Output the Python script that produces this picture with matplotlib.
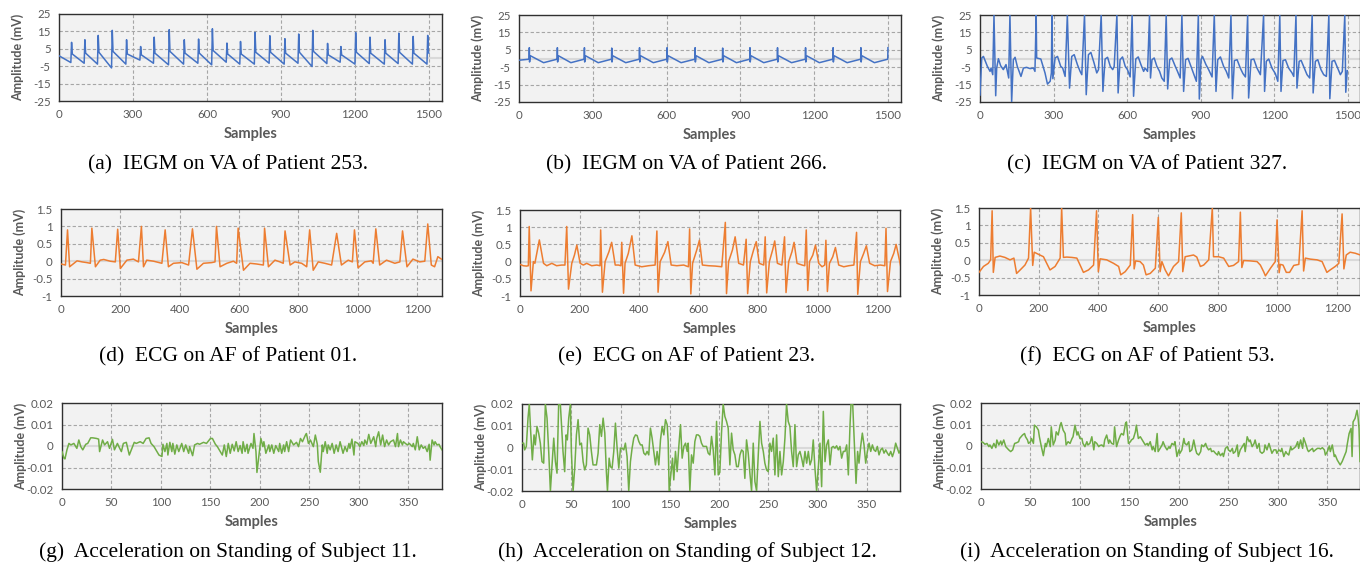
import matplotlib.pyplot as plt

plt.rcParams['axes.unicode_minus'] = False

# ---------------- data ----------------
# (a) IEGM, VA, patient 253
a_x = [0, 48, 51, 54, 102, 105, 108, 156, 159, 162, 213, 216, 219, 271, 274, 277,
       328, 331, 334, 383, 386, 389, 444, 447, 450, 505, 508, 511, 563, 566, 569,
       619, 622, 625, 678, 681, 684, 733, 736, 739, 792, 795, 798, 852, 855, 858,
       913, 916, 919, 969, 972, 975, 1026, 1029, 1032, 1086, 1089, 1092, 1140, 1143, 1146,
       1200, 1203, 1206, 1258, 1261, 1264, 1319, 1322, 1325, 1375, 1378, 1381,
       1433, 1436, 1439, 1492, 1495, 1498, 1500]
a_y = [1.0,
       -2.9, 8.7, 2.0, -3.3, 10.2, 2.5, -3.8, 12.7, 3.0, -6.0, 15.6, 3.5,
       -3.8, 10.2, 2.0, -1.5, 6.3, 1.5, -3.3, 11.7, 2.5, -4.2, 16.0, 3.5,
       -3.8, 10.2, 2.5, -3.3, 10.6, 2.5, -4.2, 16.5, 4.0, -2.7, 8.3, 2.0,
       -3.8, 9.2, 2.0, -3.8, 14.4, 3.0, -3.3, 12.5, 3.0, -3.8, 10.8, 2.5,
       -3.3, 13.5, 3.0, -5.2, 15.6, 3.5, -3.5, 8.1, 1.5, -2.7, 6.3, 1.5,
       -3.8, 14.4, 3.0, -3.5, 11.7, 2.5, -3.8, 10.2, 2.5, -3.5, 14.0, 3.0,
       -3.8, 12.1, 2.5, -3.8, 12.7, 3.0,
       2.5]

# (b) IEGM, VA, patient 266
b_x = [0, 41, 42, 43, 46, 100, 155, 156, 157, 160, 211, 265, 266, 267, 270, 322,
       376, 377, 378, 381, 434, 489, 490, 491, 494, 546, 601, 602, 603, 606, 659,
       715, 716, 717, 720, 772, 827, 828, 829, 832, 884, 938, 939, 940, 943, 995,
       1050, 1051, 1052, 1055, 1108, 1164, 1165, 1166, 1169, 1221, 1276, 1277, 1278, 1281,
       1334, 1389, 1390, 1391, 1394, 1445, 1499, 1500]
b_y = [-1.0,
       -0.4, 6.2, -2.0, 1.6, -2.4, -0.4, 6.2, -2.0, 1.6, -2.4,
       -0.4, 6.2, -2.0, 1.6, -2.4, -0.4, 6.0, -2.0, 1.6, -2.4,
       -0.4, 6.2, -2.0, 1.6, -2.4, -0.4, 6.2, -2.0, 1.6, -2.4,
       -0.4, 6.2, -2.0, 1.6, -2.4, -0.4, 6.0, -2.0, 1.6, -2.4,
       -0.4, 6.2, -2.0, 1.6, -2.4, -0.4, 6.2, -2.0, 1.6, -2.4,
       -0.4, 6.2, -2.0, 1.6, -2.4, -0.4, 6.2, -2.0, 1.6, -2.4,
       -0.4, 6.2, -2.0, 1.6, -2.4,
       -0.4, 6.2]

# (c) IEGM, VA, patient 327
c_x = [0, 7, 14, 30, 41, 45, 52, 57, 64, 68, 75, 84, 95, 106, 117, 122, 129, 136, 143, 152,
       167, 177, 190, 204, 218, 224, 229, 231, 248, 265, 275, 286, 291, 293, 297, 306,
       316, 329, 337, 347, 356, 365, 374, 384, 397, 408, 415, 426, 433, 442, 452, 465,
       476, 483, 494, 501, 510, 520, 531, 541, 547, 558, 563, 571, 581, 592, 601, 612,
       620, 626, 635, 645, 656, 667, 673, 683, 691, 695, 701, 710, 721, 732, 741, 751,
       759, 765, 773, 782, 796, 805, 816, 823, 830, 838, 848, 860, 871, 882, 890, 894,
       901, 907, 921, 932, 946, 955, 962, 969, 980, 993, 1004, 1014, 1023, 1029, 1037,
       1048, 1061, 1072, 1082, 1091, 1095, 1105, 1116, 1129, 1143, 1156, 1160, 1167,
       1177, 1190, 1204, 1214, 1222, 1227, 1235, 1245, 1258, 1272, 1279, 1288, 1292,
       1301, 1309, 1322, 1333, 1344, 1354, 1358, 1367, 1377, 1390, 1401, 1412, 1422,
       1426, 1435, 1445, 1458, 1469, 1477, 1487, 1491, 1497]
c_y = [-21, 0.3, 1.2, -4.5, -7.4, -5.5, -9.3, 25, -21.4, -5.5, -0.1, -4.1, -6.4, -3.5, -11.2,
       25, -25, -0.7, 0.7, -4.5, -10.3, -5.5, -5.1, -5.8, -5.5, -7.4, 25, 0.3, -0.3, -8.3,
       -14.7, -13.1, -8.3, 25, -11.6, 0.3, 1.2, -4.5, -5.5, -10.3, 25, -17, 1.2, 2.2, -3.5,
       -7.4, -9.3, 25, -20.8, 2.2, 3.5, -2.6, -8.3, -6.4, 25, -18.9, -0.3, 0.7, -4.5, -6.4,
       -4.5, 25, -19.8, -0.7, 0.9, -4.5, -6.4, -10.6, 25, -21.7, -0.3, 0.9, -3.5, -7.4,
       -5.5, -7.4, 25, -11.2, -0.7, 0.3, -4.5, -7.4, -11.2, -13.1, 25, -17.5, -0.7, 0.3,
       -4.5, -7.4, -11.2, 25, -18.9, -0.7, 0.1, -4.5, -8.7, -13.1, 25, -23.3, -0.7, 1.2,
       -3.5, -6.4, -10.6, 25, -18.9, -0.7, 0.9, -4.5, -7.4, -11.2, 25, -23.1, -1.2, -0.7,
       -5.5, -8.7, -10.6, 25, -22.7, -0.7, -0.3, -5.5, -9.3, 25, -18.9, -1.6, -0.3, -5.5,
       -8.7, -13.1, 25, -18.9, -1.2, -0.7, -5.5, -8.3, -10.3, 25, -17, -1.6, -1.1, -5.5,
       -9.3, -11.2, 25, -19.8, -1.6, -0.7, -6.4, -9.3, -10.3, 25, -23.1, -1.6, -1.1, -5.5,
       -9.3, -7.4, 25, -19.4, -7]

# (d) ECG, AF, patient 01
d_x = [0, 15, 22, 29, 54, 71, 87, 99, 104, 116, 132, 144, 166, 183, 191, 200, 222, 244, 261, 271,
       278, 289, 312, 340, 351, 362, 379, 407, 430, 443, 458, 480, 508, 519, 524, 536, 559, 581,
       592, 597, 615, 637, 659, 682, 686, 699, 721, 738, 749, 755, 772, 788, 811, 828, 838, 850,
       867, 889, 912, 929, 945, 968, 982, 989, 1001, 1024, 1046, 1052, 1061, 1074, 1097, 1125,
       1142, 1151, 1166, 1186, 1209, 1226, 1236, 1248, 1259, 1270, 1282]
d_y = [-0.08, -0.11, 0.90, -0.16, 0.01, -0.02, -0.04, -0.06, 0.95, -0.16, 0.03, 0.05, 0.0, -0.02,
       0.92, -0.21, 0.03, 0.06, -0.02, 1.0, -0.16, 0.03, 0.0, -0.06, 0.9, -0.16, -0.06, -0.04,
       -0.11, 0.93, -0.23, -0.06, -0.04, -0.02, 1.0, -0.16, -0.06, 0.0, -0.06, 0.95, -0.26, -0.06,
       -0.08, -0.11, 0.95, -0.16, 0.03, -0.02, -0.06, 0.87, -0.11, -0.02, -0.06, -0.16, 0.9,
       -0.26, -0.02, -0.06, -0.11, 0.8, -0.11, 0.03, -0.02, 0.9, -0.19, -0.02, 0.01, -0.06, 0.93,
       -0.11, 0.03, -0.06, -0.02, 0.87, -0.16, 0.06, -0.02, 0.0, 1.07, -0.11, -0.16, 0.13, 0.06]

# (e) ECG, AF, patient 23
e_x = [0, 11, 22, 28, 31, 37, 45, 50, 65, 79, 90, 107, 123, 140, 151, 157, 163, 174, 183, 191,
       202, 213, 224, 241, 258, 269, 271, 277, 286, 299, 308, 320, 331, 339, 342, 348, 353, 364,
       376, 387, 409, 432, 454, 460, 464, 471, 486, 497, 508, 527, 550, 566, 570, 574, 580, 594,
       603, 613, 634, 656, 678, 690, 694, 701, 714, 723, 735, 751, 760, 765, 774, 785, 794, 804,
       819, 824, 829, 838, 849, 856, 865, 880, 889, 894, 903, 914, 921, 931, 948, 957, 962, 967,
       973, 984, 993, 1004, 1015, 1024, 1028, 1033, 1040, 1051, 1060, 1071, 1088, 1105, 1122,
       1131, 1135, 1144, 1155, 1164, 1175, 1192, 1211, 1226, 1230, 1235, 1245, 1256, 1264, 1279]
e_y = [-0.08, -0.12, -0.13, -0.12, 1.02, -0.85, 0.0, -0.05, 0.63, -0.05, -0.12, -0.05, -0.12,
       -0.1, -0.1, 1.02, -0.8, -0.05, 0.19, 0.48, -0.05, -0.1, -0.05, -0.12, -0.1, -0.12, 0.92,
       -0.89, 0.0, 0.29, 0.56, -0.1, -0.1, -0.12, 0.56, -0.92, -0.05, 0.24, 0.75, -0.1, -0.15,
       -0.12, -0.1, 0.89, -0.89, 0.0, 0.27, 0.58, -0.1, -0.12, -0.1, -0.15, 0.95, -0.94, -0.05,
       0.34, 0.62, -0.1, -0.12, -0.13, -0.15, 1.14, -0.93, 0.0, 0.34, 0.72, -0.05, -0.1, 0.65,
       -0.93, 0.0, 0.34, 0.58, -0.05, -0.1, 0.72, -0.91, 0.0, 0.34, 0.6, -0.05, -0.1, 0.72, -0.9,
       0.0, 0.29, 0.56, -0.05, -0.1, -0.12, 0.92, -0.84, 0.0, 0.19, 0.48, -0.05, -0.15, -0.1,
       0.62, -0.87, -0.05, 0.14, 0.41, -0.1, -0.15, -0.12, -0.1, 0.85, -0.95, 0.0, 0.24, 0.46,
       -0.05, -0.12, -0.1, -0.12, 0.97, -0.87, 0.0, 0.24, 0.5, -0.12]

# (f) ECG, AF, patient 53
f_x = [0, 15, 31, 39, 44, 48, 54, 70, 87, 104, 117, 126, 138, 154, 166, 173, 180, 185, 199, 216,
       227, 238, 255, 272, 277, 283, 294, 311, 328, 341, 350, 367, 384, 394, 400, 406, 428, 451,
       468, 475, 490, 507, 515, 520, 525, 540, 551, 560, 574, 591, 601, 607, 613, 624, 635, 652,
       669, 678, 683, 691, 708, 719, 730, 742, 753, 770, 782, 786, 803, 820, 837, 853, 870, 876,
       881, 887, 909, 932, 943, 954, 960, 977, 993, 999, 1006, 1010, 1019, 1030, 1041, 1055,
       1072, 1083, 1088, 1094, 1111, 1133, 1150, 1166, 1177, 1194, 1206, 1217, 1223, 1231,
       1244, 1261, 1278]
f_y = [-0.35, -0.18, -0.09, 0.01, 1.42, -0.35, 0.08, 0.12, 0.08, 0.01, 0.06, -0.38, -0.28, -0.14,
       0.06, 1.5, -0.15, 0.23, 0.17, 0.1, -0.09, -0.28, -0.18, 0.06, 1.5, 0.08, 0.09, 0.08, 0.06,
       -0.18, -0.35, -0.28, -0.14, 1.42, -0.33, 0.04, 0.01, -0.09, -0.18, -0.42, -0.33, -0.14,
       1.31, -0.25, -0.02, -0.04, -0.14, -0.42, -0.38, -0.23, 1.23, -0.33, -0.04, -0.28, -0.45,
       -0.18, -0.04, 1.36, -0.33, 0.1, 0.13, 0.15, 0.09, -0.18, -0.14, 0.01, 1.5, 0.1, 0.1, 0.06,
       -0.18, -0.15, -0.04, 1.38, -0.21, -0.01, -0.02, -0.04, -0.14, -0.33, -0.45, -0.23, -0.04,
       1.16, -0.36, -0.12, -0.14, -0.35, -0.35, -0.15, -0.12, 1.42, -0.31, 0.06, 0.03, 0.01,
       -0.04, -0.35, -0.28, -0.18, -0.09, 1.33, -0.25, 0.15, 0.23, 0.2, 0.15]

# (g) acceleration, standing, subject 11
g_x = [0, 2, 3, 5, 7, 9, 12, 15, 17, 19, 21, 24, 26, 29, 31, 35, 37, 38, 41, 43,
       46, 48, 51, 53, 56, 58, 60, 62, 65, 68, 70, 73, 75, 79, 82, 85, 88, 90, 93, 96,
       98, 101, 102, 104, 106, 107, 109, 111, 112, 114, 116, 118, 121, 123, 125, 128, 129, 132, 134, 137,
       139, 143, 146, 150, 152, 155, 157, 160, 162, 164, 166, 168, 170, 172, 174, 176, 178, 180, 182, 183,
       185, 187, 188, 191, 193, 194, 196, 197, 199, 201, 203, 204, 206, 209, 210, 212, 214, 216, 219, 220,
       222, 224, 225, 227, 229, 231, 234, 237, 239, 241, 243, 246, 247, 249, 251, 254, 256, 258, 259, 261,
       263, 264, 266, 268, 269, 271, 273, 275, 277, 279, 281, 284, 286, 288, 290, 291, 293, 295, 296, 299,
       301, 303, 305, 306, 308, 310, 312, 315, 317, 318, 320, 322, 324, 326, 328, 330, 332, 335, 337, 339,
       340, 342, 344, 345, 347, 349, 351, 354, 355, 357, 359, 361, 363, 365, 367, 369, 371, 372, 374, 376,
       377, 379, 381, 382, 384]
g_y = [-0.0026, -0.0057, -0.0060, -0.0018, 0.0012, 0.0005, 0.0012, -0.0011, 0.0028, -0.0003,
       -0.0018, 0.0008, 0.0012, 0.0038, 0.0038, 0.0035, 0.0032, -0.0026, 0.0028, 0.0005,
       0.0020, -0.0011, 0.0031, -0.0018, 0.0012, -0.0008, -0.0026, 0.0012, 0.0017, -0.0042,
       -0.0018, 0.0017, 0.0012, 0.0020, 0.0012, 0.0035, 0.0038, 0.0012, -0.0003, -0.0026,
       -0.0042, -0.0049, 0.0008, -0.0026, 0.0012, -0.0042, 0.0017, -0.0026, 0.0012, -0.0038,
       0.0005, -0.0026, 0.0012, -0.0026, 0.0005, -0.0034, -0.0003, -0.0045, 0.0005, 0.0012,
       0.0008, 0.0017, 0.0012, 0.0035, 0.0035, 0.0008, -0.0003, -0.0026, -0.0042, 0.0005,
       -0.0049, 0.0012, -0.0034, 0.0008, -0.0023, 0.0020, -0.0026, 0.0002, -0.0034, 0.0020,
       -0.0026, 0.0008, -0.0034, 0.0012, -0.0011, 0.0058, -0.0026, -0.0123, -0.0042, 0.0035,
       -0.0003, 0.0020, -0.0034, 0.0005, -0.0026, 0.0005, -0.0034, 0.0002, -0.0026, 0.0012,
       -0.0034, 0.0005, -0.0026, 0.0020, -0.0026, 0.0028, 0.0005, 0.0017, -0.0003, 0.0035,
       0.0020, 0.0051, 0.0058, 0.0012, 0.0028, -0.0003, 0.0051, 0.0008, -0.0072, -0.0122,
       0.0005, -0.0026, 0.0020, -0.0034, 0.0005, -0.0018, 0.0012, -0.0034, 0.0005, -0.0026,
       0.0020, -0.0034, -0.0003, -0.0026, 0.0012, -0.0011, 0.0032, -0.0042, 0.0020, 0.0012,
       -0.0003, 0.0020, 0.0002, 0.0028, 0.0008, 0.0054, 0.0012, 0.0043, -0.0003, 0.0035,
       0.0066, 0.0005, 0.0051, -0.0003, 0.0028, 0.0005, 0.0020, 0.0028, -0.0003, 0.0058,
       -0.0003, 0.0028, 0.0005, 0.0020, 0.0012, 0.0005, 0.0012, -0.0003, 0.0012, -0.0018,
       0.0043, -0.0018, 0.0005, -0.0011, -0.0003, -0.0026, 0.0008, -0.0066, 0.0028, 0.0005,
       0.0020, 0.0005, 0.0008, -0.0003, -0.0018]

# (h) acceleration, standing, subject 12
h_x = [0.0, 1.7, 2.7, 4.4, 6.1, 7.4, 8.8, 10.5, 12.2, 13.5,
       15.2, 16.9, 18.6, 20.3, 22.0, 23.7, 25.4, 27.1, 28.8, 30.5,
       32.2, 33.9, 35.5, 37.2, 38.9, 39.9, 41.6, 43.3, 44.7, 46.0,
       47.4, 49.1, 50.1, 51.8, 53.5, 55.2, 56.9, 58.6, 60.3, 62.0,
       63.6, 65.3, 67.0, 68.7, 70.4, 72.1, 73.8, 75.5, 77.2, 78.9,
       80.6, 82.3, 84.0, 85.6, 86.7, 88.4, 89.7, 91.4, 93.1, 94.8,
       96.5, 98.2, 99.9, 101.6, 103.3, 104.9, 106.6, 108.3, 110.0, 111.7,
       113.4, 115.1, 116.8, 118.5, 120.2, 121.9, 123.6, 125.3, 126.9, 128.6,
       130.3, 132.0, 133.7, 135.4, 137.1, 138.8, 140.5, 142.2, 143.9, 145.6,
       147.3, 148.3, 149.3, 151.0, 152.7, 154.0, 155.7, 157.4, 159.1, 160.8,
       162.5, 164.2, 165.9, 167.6, 168.6, 170.3, 172.0, 173.7, 175.4, 177.0,
       178.7, 180.4, 182.1, 183.8, 185.5, 187.2, 188.9, 190.6, 192.3, 194.0,
       195.7, 197.4, 199.1, 200.7, 202.4, 204.1, 205.8, 207.5, 209.2, 210.9,
       212.6, 214.3, 216.0, 217.7, 219.4, 221.1, 222.8, 224.4, 226.1, 227.8,
       229.5, 231.2, 232.9, 234.6, 236.3, 238.0, 239.7, 241.4, 243.1, 244.8,
       246.4, 248.1, 249.8, 251.5, 253.2, 254.9, 256.6, 258.3, 260.0, 261.7,
       263.4, 265.1, 266.8, 268.4, 270.1, 271.8, 273.5, 275.2, 276.9, 278.6,
       280.3, 282.0, 283.7, 285.4, 287.1, 288.8, 290.5, 292.2, 293.8, 295.5,
       297.2, 298.9, 300.6, 302.3, 304.0, 305.7, 307.4, 309.1, 310.8, 312.5,
       314.2, 315.8, 317.5, 319.2, 320.9, 322.6, 324.3, 326.0, 327.7, 329.4,
       331.1, 332.8, 333.8, 335.5, 337.2, 338.9, 340.5, 341.9, 343.6, 345.3,
       347.0, 348.7, 350.4, 352.1, 353.8, 355.5, 357.1, 358.8, 360.5, 362.2,
       363.9, 365.6, 367.3, 369.0, 370.7, 372.4, 374.1, 375.8, 377.5, 379.1,
       380.8, 382.5, 383.9]
h_y = [0.0020, 0.0020, -0.0011, 0.0005, 0.0135, 0.0200, 0.0074, -0.0057, 0.0058, 0.0012,
       0.0097, 0.0066, 0.0020, -0.0065, -0.0072, 0.0200, 0.0135, -0.0018, -0.0200, -0.0080,
       0.0043, -0.0065, -0.0118, 0.0200, 0.0200, 0.0120, -0.0018, -0.0111, 0.0058, 0.0035,
       0.0135, 0.0200, -0.0018, -0.0200, -0.0095, 0.0058, 0.0128, 0.0012, 0.0020, -0.0065,
       -0.0103, -0.0080, 0.0089, 0.0058, -0.0018, -0.0080, -0.0080, -0.0080, -0.0026, 0.0105,
       0.0051, 0.0135, 0.0066, -0.0111, -0.0200, -0.0049, -0.0088, -0.0095, -0.0018, 0.0112,
       -0.0003, -0.0095, -0.0003, -0.0003, -0.0011, 0.0020, -0.0042, -0.0200, -0.0065, -0.0003,
       0.0043, 0.0058, 0.0055, 0.0028, 0.0012, 0.0012, -0.0026, -0.0034, -0.0018, -0.0034,
       0.0089, 0.0043, -0.0018, -0.0080, -0.0018, -0.0080, 0.0035, 0.0097, 0.0058, 0.0128,
       0.0105, 0.0028, -0.0200, -0.0126, -0.0049, -0.0149, -0.0018, -0.0111, 0.0005, 0.0105,
       -0.0049, 0.0005, 0.0020, -0.0018, 0.0020, -0.0200, -0.0034, -0.0072, 0.0028, 0.0058,
       0.0058, 0.0051, 0.0020, 0.0005, 0.0005, 0.0005, -0.0026, -0.0034, 0.0051, -0.0011,
       -0.0126, 0.0120, -0.0126, -0.0114, 0.0066, 0.0200, 0.0143, 0.0120, 0.0089, -0.0080,
       0.0066, -0.0011, -0.0034, -0.0088, -0.0088, -0.0034, -0.0011, -0.0018, -0.0142, 0.0035,
       -0.0026, -0.0118, -0.0200, 0.0020, -0.0157, -0.0200, -0.0034, 0.0120, 0.0020, -0.0018,
       -0.0072, -0.0103, -0.0111, 0.0020, -0.0018, 0.0043, -0.0126, 0.0058, -0.0134, -0.0018,
       -0.0126, -0.0065, 0.0046, 0.0200, 0.0120, 0.0097, -0.0018, -0.0088, 0.0105, -0.0088,
       -0.0034, -0.0018, -0.0049, -0.0088, -0.0018, -0.0072, -0.0018, -0.0080, -0.0057, 0.0035,
       -0.0095, -0.0200, -0.0095, 0.0020, -0.0180, 0.0166, -0.0065, 0.0012, 0.0035, -0.0080,
       0.0000, 0.0005, -0.0003, 0.0008, -0.0011, 0.0005, -0.0049, -0.0018, -0.0018, 0.0012,
       -0.0126, 0.0105, 0.0200, 0.0200, 0.0012, -0.0165, -0.0018, -0.0072, 0.0005, 0.0066,
       0.0012, -0.0072, -0.0018, 0.0020, -0.0018, 0.0012, -0.0011, -0.0018, 0.0005, -0.0034,
       -0.0011, -0.0003, -0.0026, -0.0011, -0.0026, -0.0037, -0.0018, -0.0042, -0.0018, 0.0020,
       -0.0003, -0.0026, -0.0011]

# (i) acceleration, standing, subject 16
i_x = [0, 2, 4, 6, 8, 9, 11, 13, 15, 16, 18, 20, 21, 23, 25, 26, 28, 30, 32, 34,
       36, 38, 39, 42, 44, 45, 47, 48, 50, 51, 53, 54, 56, 58, 59, 61, 63, 65, 66, 68,
       70, 71, 73, 75, 76, 78, 80, 81, 83, 85, 86, 88, 90, 92, 93, 95, 97, 98, 100, 102,
       103, 105, 107, 108, 110, 112, 114, 115, 117, 119, 120, 122, 124, 125, 127, 129, 130, 132, 134, 135,
       137, 139, 141, 142, 144, 146, 147, 149, 151, 152, 154, 156, 157, 159, 161, 162, 164, 166, 168, 169,
       171, 173, 174, 176, 178, 179, 181, 183, 184, 186, 188, 190, 191, 193, 195, 196, 198, 200, 201, 203,
       205, 206, 208, 210, 211, 213, 215, 217, 218, 220, 222, 223, 225, 227, 228, 230, 232, 233, 235, 237,
       239, 240, 242, 244, 245, 247, 249, 250, 252, 254, 255, 257, 259, 260, 262, 264, 266, 267, 269, 271,
       272, 274, 276, 277, 279, 281, 282, 284, 286, 287, 289, 291, 293, 294, 296, 298, 299, 301, 303, 304,
       306, 308, 309, 311, 313, 314, 316, 318, 320, 321, 323, 325, 326, 328, 330, 331, 333, 335, 336, 338,
       340, 342, 343, 345, 347, 348, 350, 352, 353, 355, 357, 358, 360, 362, 363, 365, 367, 369, 370, 372,
       374, 375, 376, 378, 380, 381, 382, 383]
i_y = [0.0020, 0.0017, 0.0008, 0.0012, -0.0003, 0.0005, -0.0011, 0.0012, -0.0008, 0.0028,
       0.0005, 0.0023, 0.0005, 0.0028, -0.0003, -0.0008, -0.0018, -0.0026, -0.0018, 0.0012,
       0.0015, 0.0020, 0.0035, 0.0051, 0.0058, 0.0043, 0.0028, 0.0012, 0.0020, 0.0035,
       0.0012, 0.0097, 0.0089, 0.0074, 0.0043, -0.0003, -0.0045, 0.0012, -0.0003, 0.0035,
       -0.0003, 0.0089, 0.0005, 0.0028, 0.0066, 0.0051, 0.0097, 0.0109, 0.0074, 0.0058,
       0.0005, 0.0020, 0.0012, 0.0035, 0.0043, 0.0097, 0.0051, 0.0066, 0.0035, 0.0035,
       0.0012, -0.0003, 0.0020, 0.0005, 0.0012, 0.0043, -0.0018, 0.0020, 0.0012, -0.0003,
       0.0002, 0.0005, -0.0003, 0.0028, 0.0051, 0.0012, 0.0028, 0.0012, 0.0008, 0.0089,
       -0.0003, 0.0028, 0.0051, 0.0058, 0.0051, 0.0105, 0.0112, 0.0012, 0.0020, 0.0028,
       0.0035, 0.0066, 0.0097, 0.0035, 0.0043, 0.0035, 0.0020, 0.0005, 0.0012, 0.0002,
       0.0020, -0.0018, -0.0003, -0.0026, 0.0058, -0.0026, -0.0011, 0.0005, 0.0020, -0.0003,
       -0.0018, -0.0003, -0.0011, 0.0012, 0.0005, 0.0020, -0.0049, -0.0018, -0.0034, -0.0018,
       0.0035, 0.0012, 0.0005, 0.0020, -0.0026, -0.0018, 0.0028, -0.0018, -0.0034, -0.0042,
       -0.0026, 0.0005, -0.0003, 0.0012, -0.0003, -0.0018, -0.0011, -0.0026, -0.0023, -0.0034,
       -0.0042, -0.0026, -0.0045, -0.0034, -0.0049, -0.0011, -0.0003, -0.0018, -0.0026, -0.0011,
       -0.0034, -0.0026, 0.0005, -0.0049, -0.0018, -0.0003, 0.0012, -0.0026, 0.0043, 0.0020,
       0.0028, -0.0003, 0.0012, 0.0028, -0.0011, 0.0012, -0.0026, -0.0034, -0.0026, 0.0005,
       -0.0018, 0.0012, -0.0018, -0.0034, -0.0018, -0.0018, -0.0034, -0.0018, -0.0026, -0.0011,
       -0.0049, -0.0026, -0.0034, -0.0042, -0.0003, -0.0018, -0.0011, -0.0003, 0.0020, -0.0011,
       0.0028, -0.0011, 0.0038, 0.0012, -0.0018, -0.0026, -0.0018, -0.0011, -0.0026, -0.0018,
       -0.0011, -0.0011, -0.0014, -0.0008, -0.0018, -0.0042, -0.0026, 0.0000, -0.0026, 0.0005,
       -0.0049, -0.0042, -0.0065, -0.0080, -0.0088, -0.0072, -0.0049, -0.0026, 0.0005, 0.0058,
       0.0082, -0.0049, 0.0112, 0.0128, 0.0166, 0.0135, 0.0082, -0.0072]

iegm_xticks = [0, 300, 600, 900, 1200, 1500]
iegm_yticks = [-25, -15, -5, 5, 15, 25]
ecg_xticks = [0, 200, 400, 600, 800, 1000, 1200]
ecg_yticks = [-1, -0.5, 0, 0.5, 1, 1.5]
acc_xticks = [0, 50, 100, 150, 200, 250, 300, 350]
acc_yticks = [-0.02, -0.01, 0, 0.01, 0.02]

captions = ['(a)  IEGM on VA of Patient 253.', '(b)  IEGM on VA of Patient 266.',
            '(c)  IEGM on VA of Patient 327.', '(d)  ECG on AF of Patient 01.',
            '(e)  ECG on AF of Patient 23.', '(f)  ECG on AF of Patient 53.',
            '(g)  Acceleration on Standing of Subject 11.',
            '(h)  Acceleration on Standing of Subject 12.',
            '(i)  Acceleration on Standing of Subject 16.']

blue = '#4472C4'
orange = '#ED7D31'
green = '#70AD47'
gray = '#595959'

W, H = 1360, 566
fig = plt.figure(figsize=(W / 100, H / 100), dpi=100)


def panel(l, t, r, b, x, y, color, xmax, xticks, yticks):
    ax = fig.add_axes([l / W, 1 - b / H, (r - l) / W, (b - t) / H])
    ax.set_facecolor('#F2F2F2')
    ax.axhline(0, color='#D9D9D9', lw=1.5, zorder=1)
    for v in xticks[1:]:
        ax.axvline(v, color='#A6A6A6', lw=0.8, ls=(0, (3, 2)), zorder=1)
    for v in yticks[1:-1]:
        if v != 0:
            ax.axhline(v, color='#A6A6A6', lw=0.8, ls=(0, (3, 2)), zorder=1)
    ax.plot(x, y, color=color, lw=1.1, zorder=3)
    ax.set_xlim(0, xmax)
    ax.set_ylim(yticks[0], yticks[-1])
    ax.set_xticks(xticks)
    ax.set_xticklabels(['%g' % v for v in xticks])
    ax.set_yticks(yticks)
    ax.set_yticklabels(['%g' % v for v in yticks])
    ax.tick_params(length=0, labelsize=8.3, labelcolor=gray, pad=6)
    for lab in ax.get_xticklabels() + ax.get_yticklabels():
        lab.set_family('Lato')
    for s in ax.spines.values():
        s.set_color('#303030')
        s.set_linewidth(1.0)
    ax.set_xlabel('Samples', fontsize=10.5, fontweight='bold', color=gray, family='Lato')
    ax.set_ylabel('Amplitude (mV)', fontsize=9, fontweight='bold', color=gray, family='Lato')
    ax.xaxis.set_label_coords(0.5, -0.30)
    ax.yaxis.set_label_coords(-0.092, 0.5)
    return ax


panel(59, 14, 442, 101, a_x, a_y, blue, 1553, iegm_xticks, iegm_yticks)
panel(519, 15, 901, 102, b_x, b_y, blue, 1553, iegm_xticks, iegm_yticks)
panel(980, 15, 1360, 102, c_x, c_y, blue, 1549, iegm_xticks, iegm_yticks)
panel(61, 209, 442, 296, d_x, d_y, orange, 1284, ecg_xticks, ecg_yticks)
panel(520, 210, 900, 296, e_x, e_y, orange, 1277, ecg_xticks, ecg_yticks)
panel(979, 208, 1360, 295, f_x, f_y, orange, 1277, ecg_xticks, ecg_yticks)
panel(62, 403, 442, 489, g_x, g_y, green, 384, acc_xticks, acc_yticks)
panel(522, 404, 900, 491, h_x, h_y, green, 383.5, acc_xticks, acc_yticks)
panel(981, 403, 1360, 489, i_x, i_y, green, 383, acc_xticks, acc_yticks)

cap_x = [228, 687, 1147]
cap_y = [165, 357, 552]
for k, txt in enumerate(captions):
    fig.text(cap_x[k % 3] / W, 1 - cap_y[k // 3] / H, txt, ha='center', va='center',
             fontsize=15.5, family='Liberation Serif', color='black')

plt.savefig('out.png', dpi=100)
